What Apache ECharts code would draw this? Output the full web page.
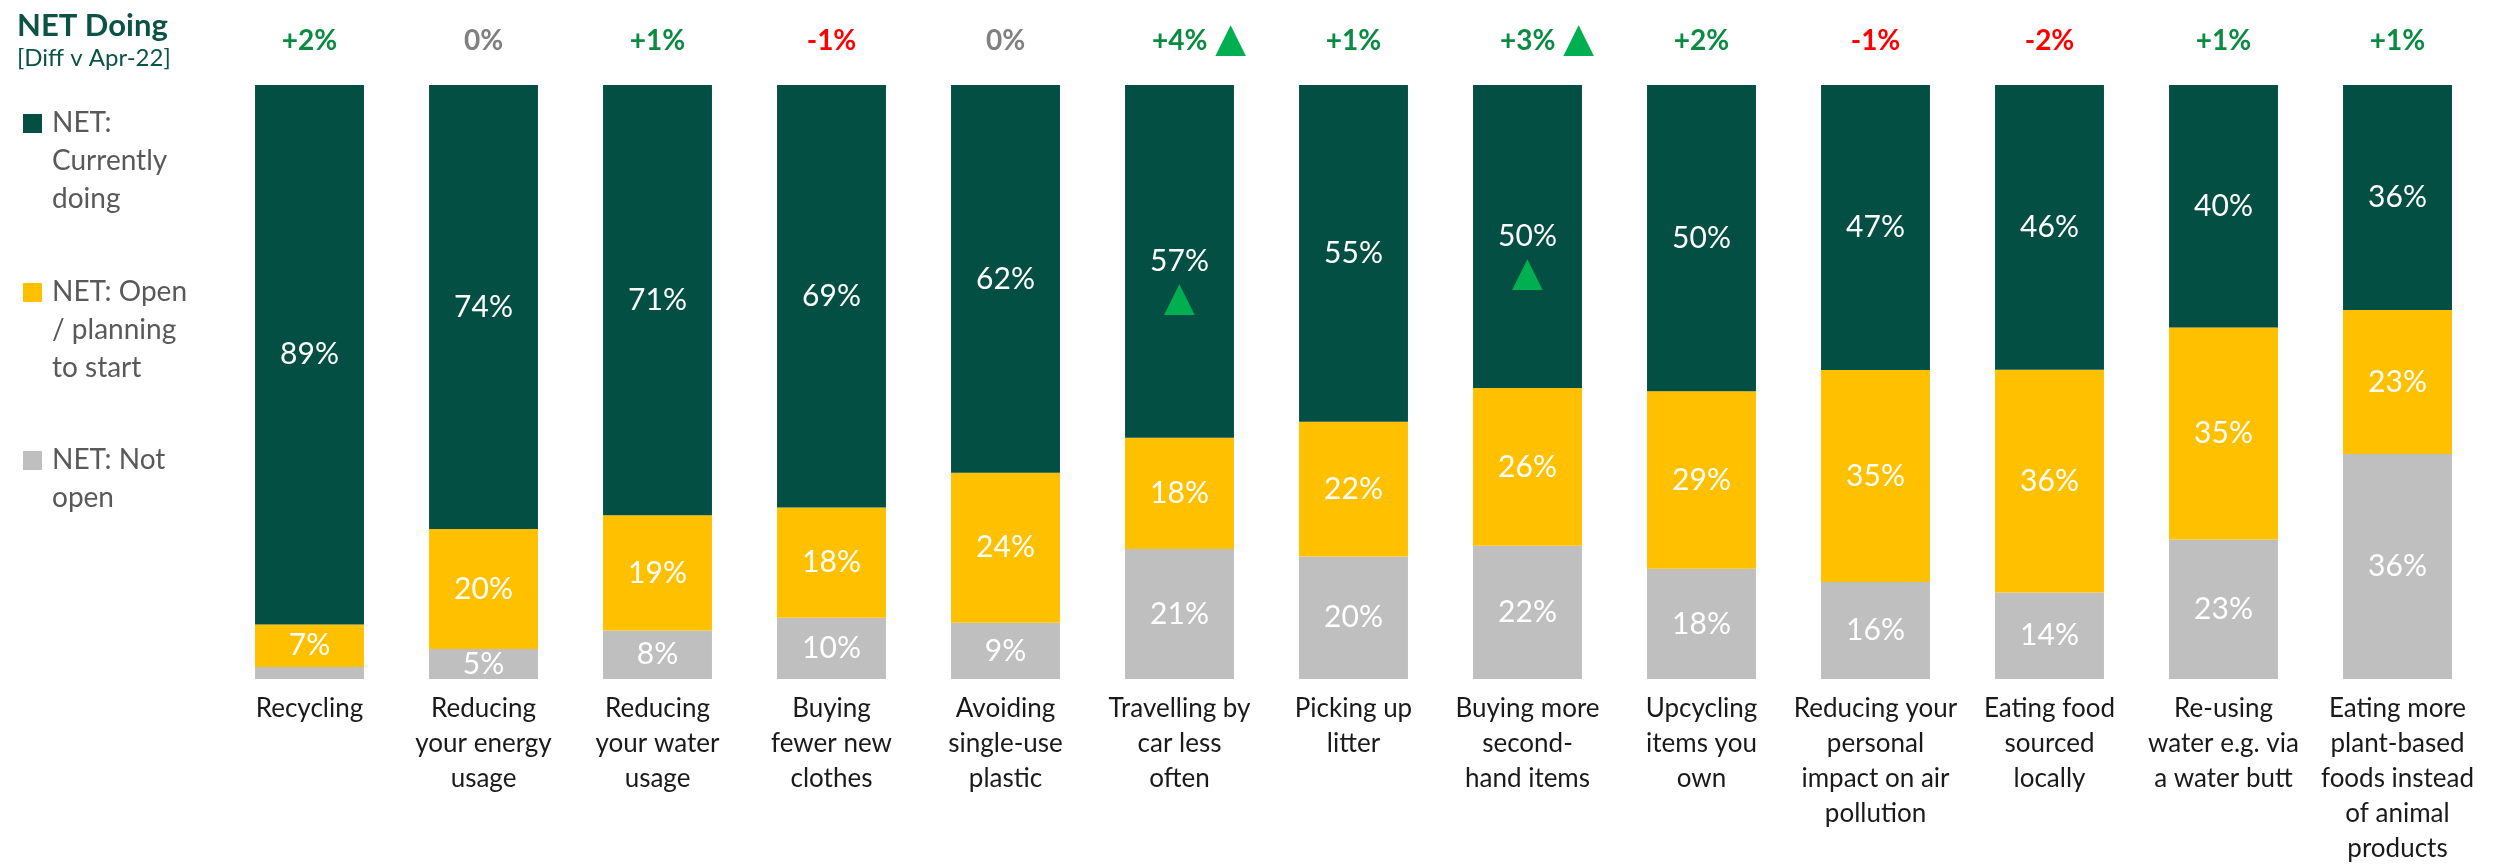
<!DOCTYPE html>
<html>
<head>
<meta charset="utf-8">
<script src="https://cdn.jsdelivr.net/npm/echarts@6/dist/echarts.min.js"></script>
<style>
  html, body { margin: 0; padding: 0; background: #ffffff; }
  #chart { width: 2504px; height: 866px; }
</style>
</head>
<body>
<div id="chart"></div>
<script>
// Sustainable behaviours: share currently doing / open / not open
const categories = [
  'Recycling',
  'Reducing\nyour energy\nusage',
  'Reducing\nyour water\nusage',
  'Buying\nfewer new\nclothes',
  'Avoiding\nsingle-use\nplastic',
  'Travelling by\ncar less\noften',
  'Picking up\nlitter',
  'Buying more\nsecond-\nhand items',
  'Upcycling\nitems you\nown',
  'Reducing your\npersonal\nimpact on air\npollution',
  'Eating food\nsourced\nlocally',
  'Re-using\nwater e.g. via\na water butt',
  'Eating more\nplant-based\nfoods instead\nof animal\nproducts'
];
const seriesNames = ['NET: Currently doing', 'NET: Open / planning to start', 'NET: Not open'];
const legendLabels = ['NET:\nCurrently\ndoing', 'NET: Open\n/ planning\nto start', 'NET: Not\nopen'];

const currentlyDoing = [89, 74, 71, 69, 62, 57, 55, 50, 50, 47, 46, 40, 36];
const openPlanning   = [7, 20, 19, 18, 24, 18, 22, 26, 29, 35, 36, 35, 23];
const notOpen        = [2, 5, 8, 10, 9, 21, 20, 22, 18, 16, 14, 23, 36];

// Change in "currently doing" vs Apr-22 (percentage points)
const diffVsApr22 = [2, 0, 1, -1, 0, 4, 1, 3, 2, -1, -2, 1, 1];
const significantRise = [false, false, false, false, false, true, false, true, false, false, false, false, false];

const colors = ['#044F43', '#FFC000', '#BFBFBF'];
const FONT = 'Lato, "Open Sans", sans-serif';
const TRIANGLE = '\u25B2';

const rawSeries = [currentlyDoing, openPlanning, notOpen];
// Each bar is shown as a 100% stack: segment height is its share of the bar total
const totals = categories.map((_, i) => rawSeries.reduce((s, arr) => s + arr[i], 0));

function buildData(arr, markRise) {
  return arr.map((v, i) => {
    const item = { value: v / totals[i] * 100, raw: v };
    if (markRise && significantRise[i]) {
      item.label = { offset: [0, 20] };
    }
    return item;
  });
}

const valueRich = {
  v: { fontFamily: FONT, fontSize: 30, lineHeight: 36, color: '#ffffff' },
  t: { fontFamily: '"DejaVu Sans"', fontSize: 40, lineHeight: 40, color: '#00B050' }
};

// Stack from the bottom: not open, then open, then currently doing on top
const stackOrder = [2, 1, 0];
const series = stackOrder.map(s => ({
  name: seriesNames[s],
  type: 'bar',
  stack: 'total',
  xAxisIndex: 0,
  barCategoryGap: '37.4%',
  itemStyle: { color: colors[s] },
  label: {
    show: true,
    position: 'inside',
    formatter: p => {
      const raw = p.data.raw;
      if (raw < 4) return '';
      if (s === 0 && significantRise[p.dataIndex]) return '{v|' + raw + '%}\n{t|' + TRIANGLE + '}';
      return '{v|' + raw + '%}';
    },
    rich: valueRich
  },
  emphasis: { disabled: true },
  data: buildData(rawSeries[s], s === 0)
}));

function diffText(d) {
  return (d > 0 ? '+' : '') + d + '%';
}

const topRich = {
  pos:  { fontFamily: FONT, fontSize: 28, fontWeight: 'bold', color: '#0B8A42', lineHeight: 34 },
  zero: { fontFamily: FONT, fontSize: 28, fontWeight: 'bold', color: '#808080', lineHeight: 34 },
  neg:  { fontFamily: FONT, fontSize: 28, fontWeight: 'bold', color: '#FF0000', lineHeight: 34 },
  pad:  { width: 39, lineHeight: 34 },
  tri:  { fontFamily: '"DejaVu Sans"', fontSize: 40, color: '#00B050', lineHeight: 34, padding: [0, 0, 0, 8] }
};

// Legend drawn as stacked text blocks on the left
const legendTops = [104, 273, 441];
const legendGraphics = [];
legendLabels.forEach((txt, i) => {
  legendGraphics.push({
    type: 'rect',
    left: 23, top: legendTops[i] + 10,
    shape: { width: 19, height: 19 },
    style: { fill: colors[i] }
  });
  legendGraphics.push({
    type: 'text',
    left: 52, top: legendTops[i],
    style: {
      text: txt,
      font: '28px ' + FONT,
      lineHeight: 38,
      fill: '#595959'
    }
  });
});

const chart = echarts.init(document.getElementById('chart'), null, { renderer: 'canvas' });
chart.setOption({
  animation: false,
  backgroundColor: '#ffffff',
  textStyle: { fontFamily: FONT },
  title: {
    text: 'NET Doing',
    subtext: '[Diff v Apr-22]',
    left: 12, top: 5,
    itemGap: 5,
    textStyle: { fontFamily: FONT, fontSize: 31, fontWeight: 'bold', color: '#0B5345' },
    subtextStyle: { fontFamily: FONT, fontSize: 24, color: '#0B5345' }
  },
  grid: { left: 222.5, right: 19.5, top: 85, bottom: 182, containLabel: false },
  xAxis: [
    {
      type: 'category',
      data: categories,
      position: 'bottom',
      axisLine: { show: false },
      axisTick: { show: false },
      axisLabel: {
        interval: 0,
        margin: 12,
        fontFamily: FONT,
        fontSize: 26,
        lineHeight: 35,
        color: '#1A1A1A',
        align: 'center'
      }
    },
    {
      type: 'category',
      data: categories,
      position: 'top',
      axisLine: { show: false },
      axisTick: { show: false },
      axisLabel: {
        interval: 0,
        margin: 27,
        formatter: (val, idx) => {
          const d = diffVsApr22[idx];
          const key = d > 0 ? 'pos' : (d < 0 ? 'neg' : 'zero');
          const txt = '{' + key + '|' + diffText(d) + '}';
          return significantRise[idx] ? '{pad|}' + txt + '{tri|' + TRIANGLE + '}' : txt;
        },
        rich: topRich
      }
    }
  ],
  yAxis: {
    type: 'value',
    min: 0,
    max: 100,
    show: false,
    splitLine: { show: false }
  },
  series: series,
  graphic: legendGraphics
});
</script>
</body>
</html>
